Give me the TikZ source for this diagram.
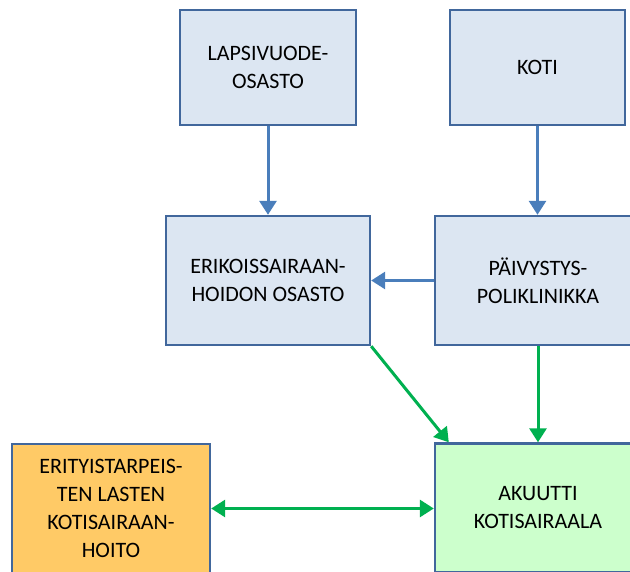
\documentclass[tikz,border=0pt]{standalone}
\usepackage{fontspec}
\setmainfont{Carlito}
\usetikzlibrary{arrows.meta,calc}
\definecolor{boxblue}{HTML}{DCE6F2}
\definecolor{boxedge}{HTML}{41679C}
\definecolor{arrblue}{HTML}{4A7EBB}
\definecolor{arrgreen}{HTML}{00B050}
\definecolor{boxorange}{HTML}{FFCA66}
\definecolor{boxgreen}{HTML}{CCFFCC}
\tikzset{
  box/.style={draw=boxedge, line width=2.4pt, fill=boxblue, align=center,
    font=\fontsize{22}{28}\selectfont, inner sep=0pt},
  bluearr/.style={draw=arrblue, line width=3pt, -{Triangle[length=14pt,width=17pt]}},
  greenarr/.style={draw=arrgreen, line width=3pt, -{Triangle[length=14pt,width=17pt]}},
  greendbl/.style={draw=arrgreen, line width=3pt, {Triangle[length=14pt,width=17pt]}-{Triangle[length=14pt,width=17pt]}}
}
\begin{document}
\begin{tikzpicture}[x=1pt,y=-1pt]
\useasboundingbox (0,0) rectangle (630,572);
\clip (0,0) rectangle (630,572);
\node[box, minimum width=176pt, minimum height=115pt] (lapsi) at (268,67.5) {LAPSIVUODE-\\OSASTO};
\node[box, minimum width=175pt, minimum height=115pt] (koti) at (537.5,67.5) {KOTI};
\node[box, minimum width=204pt, minimum height=129pt] (erik) at (268,280.5) {ERIKOISSAIRAAN-\\HOIDON OSASTO};
\node[box, minimum width=206pt, minimum height=129pt] (paiv) at (538,280.5) {PÄIVYSTYS-\\POLIKLINIKKA};
\node[box, fill=boxorange, minimum width=198pt, minimum height=129pt] (erity) at (111,508.5) {ERITYISTARPEIS-\\TEN LASTEN\\KOTISAIRAAN-\\HOITO};
\node[box, fill=boxgreen, minimum width=206pt, minimum height=129pt] (akuutti) at (538,508) {AKUUTTI\\KOTISAIRAALA};
\coordinate (akin) at ($(akuutti.north west)+(15,0)$);
\draw[bluearr] (lapsi.south) -- (erik.north);
\draw[bluearr] (koti.south) -- (koti.south |- paiv.north);
\draw[bluearr] (paiv.west) -- (erik.east);
\draw[greenarr] (erik.south east) -- (akin);
\draw[greenarr] (paiv.south) -- (akuutti.north);
\draw[greendbl] (erity.east) -- (erity.east -| akuutti.west);
\end{tikzpicture}
\end{document}
